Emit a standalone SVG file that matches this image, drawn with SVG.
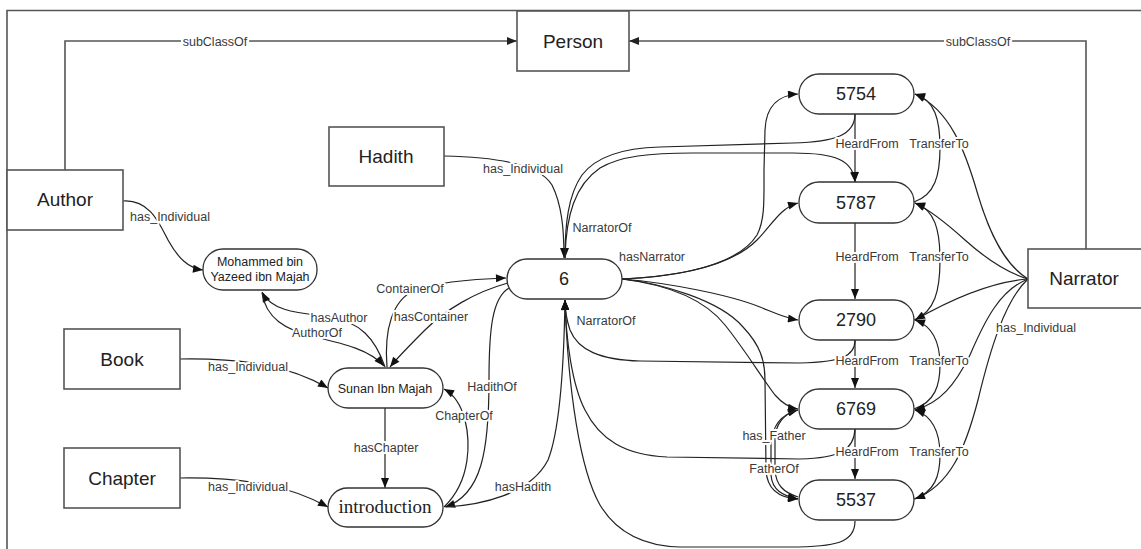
<svg xmlns="http://www.w3.org/2000/svg" width="1141" height="549" viewBox="0 0 1141 549">
<style>
.box{fill:#fff;stroke:#555;stroke-width:1.6}
.rn{fill:#fff;stroke:#333;stroke-width:1.3}
.bt{font-family:"Liberation Sans",Arial,sans-serif;font-size:19px;fill:#222;text-anchor:middle}
.nt{font-family:"Liberation Sans",Arial,sans-serif;font-size:18px;fill:#222;text-anchor:middle}
.st{font-family:"Liberation Sans",Arial,sans-serif;font-size:12.5px;fill:#222;text-anchor:middle}
.it{font-family:"Liberation Serif","Times New Roman",serif;font-size:19px;fill:#222;text-anchor:middle}
.e{fill:none;stroke:#222;stroke-width:1.2;marker-end:url(#a)}
.g{fill:none;stroke:#555;stroke-width:1.6}
.bg{fill:#fff}
.lb{font-family:"Liberation Sans",Arial,sans-serif;font-size:12.5px;fill:#3a3a3a;text-anchor:middle;stroke:#fff;stroke-width:4;stroke-linejoin:round;paint-order:stroke}
</style>
<defs>
<marker id="a" viewBox="0 0 10 8" refX="10" refY="4" markerWidth="11" markerHeight="8" markerUnits="userSpaceOnUse" orient="auto"><path d="M0,0 L10,4 L0,8 z" fill="#111"/></marker>
<marker id="ag" viewBox="0 0 10 8" refX="10" refY="4" markerWidth="12" markerHeight="8" markerUnits="userSpaceOnUse" orient="auto"><path d="M0,0 L10,4 L0,8 z" fill="#222"/></marker>
</defs>
<rect width="1141" height="549" fill="#fff"/>
<path class="g" d="M7,549 V10.5 H1141"/>
<g id="connectors">
<path class="g" d="M65,170 V41 H517" marker-end="url(#ag)"/>
<path class="g" d="M1086,249 V41 H629" marker-end="url(#ag)"/>
<path class="e" d="M123,201 C150,199 160,225 168,240 C178,258 188,268 203,270"/>
<path class="e" d="M180,359 C245,358 290,366 328,388"/>
<path class="e" d="M180,478 C245,477 290,486 328,507"/>
<path class="e" d="M444,156 C500,157 540,165 552,185 C562,205 564,230 564,258"/>
<path class="e" d="M385,408 V488"/>
<path class="e" d="M385,367 C375,338 360,322 330,317 C300,313 272,312 262,292"/>
<path class="e" d="M262,293 C266,318 285,330 315,337 C345,344 370,350 384,366"/>
<path class="e" d="M387,367 C384,330 392,300 415,290 C440,281 475,279 506,278"/>
<path class="e" d="M508,283 C475,292 445,310 425,330 C410,345 398,357 390,367"/>
<path class="e" d="M444,507 C472,480 470,440 465,420 C461,405 455,395 444,389"/>
<path class="e" d="M509,288 C492,298 489,330 489,380 C489,450 482,495 445,507"/>
<path class="e" d="M446,507 C480,505 530,495 548,460 C560,430 564,360 565,300"/>
<path class="e" d="M622,279 C690,276 740,262 757,235 C765,220 764,200 764,170 L765,130 C766,105 780,95 798,94"/>
<path class="e" d="M622,279 C690,276 735,262 757,240 C772,225 780,208 798,203"/>
<path class="e" d="M855,114 C855,135 835,142 793,143 L660,147 C620,148 595,158 582,175 C568,195 565,225 565,258"/>
<path class="e" d="M565,258 C566,215 575,185 600,168 C620,156 650,153 693,153 L793,153 C835,153 853,160 855,182"/>
<path class="e" d="M855,114 V182"/>
<path class="e" d="M855,223 V299"/>
<path class="e" d="M855,340 V388"/>
<path class="e" d="M855,429 V479"/>
<path class="e" d="M622,279 C670,283 730,295 760,307 C775,313 785,318 798,320"/>
<path class="e" d="M622,279 C670,285 705,300 725,325 C745,350 760,375 775,395 C782,403 790,408 798,409"/>
<path class="e" d="M622,279 C660,283 720,300 743,327 C760,345 765,360 765,380 L766,470 C767,490 780,498 798,499"/>
<path class="e" d="M855,340 C855,357 840,362 800,363 L640,361 C600,360 578,350 570,330 C566,318 565,308 565,300"/>
<path class="e" d="M855,429 C854,450 840,458 800,459 L667,457 C625,455 600,440 585,410 C572,385 566,340 565,300"/>
<path class="e" d="M855,521 C855,543 835,547 790,547 L680,547 C640,546 615,530 600,505 C580,470 568,390 565,300"/>
<path class="e" d="M798,497 C783,492 776,485 775,470 L775,440 C775,425 783,414 798,410"/>
<path class="e" d="M798,410 C782,414 772,425 771,445 L771,475 C772,490 783,496 798,499"/>
<path class="e" d="M914,202 C935,195 940,175 940,148 C940,120 935,100 915,94"/>
<path class="e" d="M914,320 C935,312 940,290 940,260 C940,230 935,210 915,203"/>
<path class="e" d="M914,409 C935,402 940,385 940,365 C940,345 935,327 915,320"/>
<path class="e" d="M914,499 C935,492 940,475 940,455 C940,435 935,417 915,410"/>
<path class="e" d="M1028,279 C1005,265 990,235 978,195 C965,150 950,110 915,94"/>
<path class="e" d="M1028,279 C1005,272 985,258 965,240 C945,222 930,210 915,203"/>
<path class="e" d="M1028,279 C990,282 950,300 915,320"/>
<path class="e" d="M1028,279 C1000,290 985,320 970,355 C955,385 940,403 915,410"/>
<path class="e" d="M1028,279 C1005,300 990,350 978,400 C965,450 950,485 915,499"/>
<rect class="bg" x="181" y="34" width="68" height="14"/>
<rect class="bg" x="944" y="34" width="68" height="14"/>
<text class="lb" x="215" y="45.5">subClassOf</text>
<text class="lb" x="978" y="45.5">subClassOf</text>
<text class="lb" x="170" y="221">has_Individual</text>
<text class="lb" x="248" y="371">has_Individual</text>
<text class="lb" x="248" y="491">has_Individual</text>
<text class="lb" x="523" y="173">has_Individual</text>
<text class="lb" x="1036" y="332">has_Individual</text>
<text class="lb" x="386" y="452">hasChapter</text>
<text class="lb" x="339" y="322">hasAuthor</text>
<text class="lb" x="317" y="337">AuthorOf</text>
<text class="lb" x="410" y="293">ContainerOf</text>
<text class="lb" x="431" y="321">hasContainer</text>
<text class="lb" x="464" y="420">ChapterOf</text>
<text class="lb" x="492" y="391">HadithOf</text>
<text class="lb" x="523" y="491">hasHadith</text>
<text class="lb" x="602" y="232">NarratorOf</text>
<text class="lb" x="652" y="261">hasNarrator</text>
<text class="lb" x="606" y="325">NarratorOf</text>
<text class="lb" x="867" y="148">HeardFrom</text>
<text class="lb" x="867" y="261">HeardFrom</text>
<text class="lb" x="867" y="365">HeardFrom</text>
<text class="lb" x="867" y="456">HeardFrom</text>
<text class="lb" x="939" y="148">TransferTo</text>
<text class="lb" x="939" y="261">TransferTo</text>
<text class="lb" x="939" y="365">TransferTo</text>
<text class="lb" x="939" y="456">TransferTo</text>
<text class="lb" x="774" y="440">has_Father</text>
<text class="lb" x="774" y="473">FatherOf</text>
</g>
<g id="person"><rect class="box" x="517" y="11" width="112" height="60"/><text class="bt" x="573" y="48">Person</text></g>
<g id="author"><rect class="box" x="7" y="170" width="116" height="60"/><text class="bt" x="65" y="206">Author</text></g>
<g id="hadith"><rect class="box" x="329" y="127" width="115" height="59"/><text class="bt" x="386" y="163">Hadith</text></g>
<g id="book"><rect class="box" x="64" y="329" width="116" height="60"/><text class="bt" x="122" y="366">Book</text></g>
<g id="chapter"><rect class="box" x="64" y="448" width="116" height="60"/><text class="bt" x="122" y="485">Chapter</text></g>
<g id="narrator"><rect class="box" x="1028" y="249" width="116" height="59"/><text class="bt" x="1084" y="285">Narrator</text></g>
<g id="n5754"><rect class="rn" x="799" y="74" width="115" height="40" rx="20"/><text class="nt" x="856" y="100">5754</text></g>
<g id="n5787"><rect class="rn" x="799" y="182" width="115" height="41" rx="20"/><text class="nt" x="856" y="209">5787</text></g>
<g id="n2790"><rect class="rn" x="799" y="300" width="115" height="40" rx="20"/><text class="nt" x="856" y="326">2790</text></g>
<g id="n6769"><rect class="rn" x="799" y="389" width="115" height="40" rx="20"/><text class="nt" x="856" y="415">6769</text></g>
<g id="n5537"><rect class="rn" x="799" y="480" width="115" height="40" rx="20"/><text class="nt" x="856" y="506">5537</text></g>
<g id="n6"><rect class="rn" x="507" y="259" width="115" height="40" rx="20"/><text class="nt" x="564" y="285">6</text></g>
<g id="mohammed"><rect class="rn" x="203" y="249" width="114" height="41" rx="20"/><text class="st" x="260" y="266">Mohammed bin</text><text class="st" x="260" y="281">Yazeed ibn Majah</text></g>
<g id="sunan"><rect class="rn" x="328" y="368" width="115" height="40" rx="20"/><text class="st" x="385" y="392.5">Sunan Ibn Majah</text></g>
<g id="introduction"><rect class="rn" x="328" y="488" width="115" height="39" rx="19.5"/><text class="it" x="385" y="513">introduction</text></g>
</svg>
